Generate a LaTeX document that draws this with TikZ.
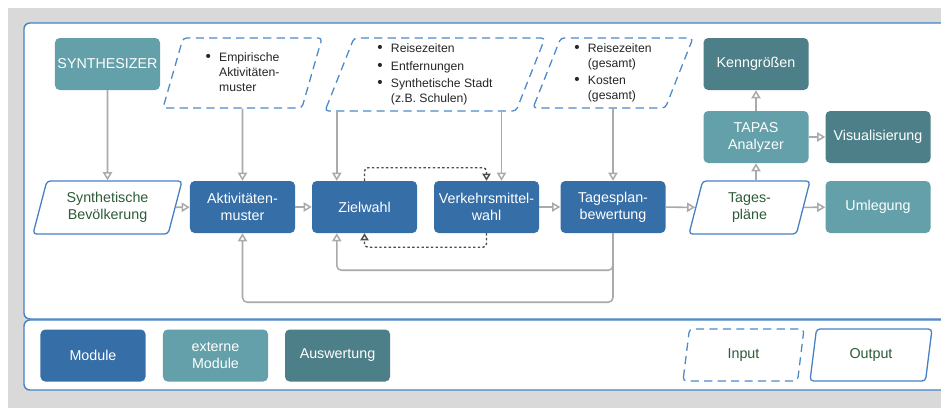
\documentclass[tikz,border=0pt]{standalone}
\usepackage{fontspec}
\setmainfont{Liberation Sans}
\usetikzlibrary{shapes.geometric,arrows.meta,calc}

\definecolor{modblue}{RGB}{54,110,168}
\definecolor{extteal}{RGB}{99,160,169}
\definecolor{evalteal}{RGB}{76,127,135}
\definecolor{frameblue}{RGB}{70,128,196}
\definecolor{dashblue}{RGB}{78,138,200}
\definecolor{textgreen}{RGB}{45,92,55}
\definecolor{linkgray}{RGB}{170,170,170}
\definecolor{bggray}{RGB}{217,217,217}

\newcommand\bul{{\fontsize{13}{12.8}\selectfont\textbullet}}

\tikzset{
  box/.style={rectangle, rounded corners=4pt, minimum width=3.15cm, minimum height=1.56cm, inner sep=2pt, align=center, text=white, font=\fontsize{12.2}{14.5}\selectfont},
  module/.style={box, fill=modblue},
  extmodule/.style={box, fill=extteal},
  evalbox/.style={box, fill=evalteal},
  para/.style={trapezium, trapezium left angle=67, trapezium right angle=113, trapezium stretches body, rounded corners=3pt, line width=1.1pt, inner sep=1pt, align=center},
  inbox/.style={para, draw=dashblue, dash pattern=on 7pt off 4.5pt, text=black!85, font=\fontsize{10.4}{12.8}\selectfont},
  outbox/.style={para, draw=frameblue, text=textgreen, font=\fontsize{12.2}{14.5}\selectfont},
  link/.style={draw=linkgray, line width=1.3pt, -{Triangle[open, length=7pt, width=8pt]}},
  iterate/.style={draw=black!70, line width=1.2pt, dash pattern=on 2pt off 2pt, rounded corners=3pt, -{Triangle[open, length=6pt, width=7pt]}},
  panel/.style={draw=frameblue, line width=1.2pt, fill=white, rounded corners=5pt}
}

\begin{document}
\begin{tikzpicture}[x=0.03cm, y=-0.03cm]
\useasboundingbox (0,0) rectangle (941,407);
\clip (0,0) rectangle (941,407);
% background and the two panels
\fill[bggray] (8,8) rectangle (960,420);
\draw[panel] (24,23) rectangle (970,319);
\draw[panel] (24,320) rectangle (970,390);

% inputs
\node[inbox, minimum width=4.77cm, minimum height=2.1cm] (inpA) at (242.5,73)
  {\begin{tabular}{@{}l@{\hspace{7pt}}l@{}}\bul & Empirische\\ & Aktivitäten-\\ & muster\end{tabular}};
\node[inbox, minimum width=6.6cm, minimum height=2.19cm] (inpB) at (435,74.5)
  {\begin{tabular}{@{}l@{\hspace{7pt}}l@{}}\bul & Reisezeiten\\[2.5pt] \bul & Entfernungen\\[2.5pt] \bul & Synthetische Stadt\\ & (z.B. Schulen)\end{tabular}};
\node[inbox, minimum width=4.8cm, minimum height=2.1cm] (inpC) at (613,73)
  {\begin{tabular}{@{}l@{\hspace{7pt}}l@{}}\bul & Reisezeiten\\ & (gesamt)\\[2.5pt] \bul & Kosten\\ & (gesamt)\end{tabular}};

% top row
\node[extmodule] (synth) at (107.5,64) {SYNTHESIZER};
\node[evalbox] (kenn) at (756,64) {Kenngrößen};
\node[extmodule] (tapas) at (756,137) {TAPAS\\Analyzer};
\node[evalbox] (vis) at (878,137) {Visualisierung};

% main chain
\node[outbox, minimum width=4.47cm, minimum height=1.59cm] (bev) at (107.5,207.5) {Synthetische\\Bevölkerung};
\node[module] (akt) at (242.5,207) {Aktivitäten-\\muster};
\node[module] (ziel) at (364.5,207) {Zielwahl};
\node[module] (vmw) at (486.5,207) {Verkehrsmittel-\\wahl};
\node[module] (tpb) at (613,207) {Tagesplan-\\bewertung};
\node[outbox, minimum width=3.63cm, minimum height=1.59cm] (plaene) at (749.5,207.5) {Tages-\\pläne};
\node[extmodule] (uml) at (878,207) {Umlegung};

% legend
\node[module] (lmod) at (93,355.5) {Module};
\node[extmodule] (lext) at (215.5,355.5) {externe\\Module};
\node[evalbox] (leval) at (337.5,355.5) {Auswertung};
\node[inbox, minimum width=3.63cm, minimum height=1.56cm, text=textgreen, font=\fontsize{12.2}{14.5}\selectfont] (linp) at (743.5,355) {Input};
\node[outbox, minimum width=3.66cm, minimum height=1.56cm] (lout) at (871,355) {Output};

% connectors
\coordinate (zin) at ($(ziel.north west)+(25,0)$);
\coordinate (zout) at ($(ziel.south west)+(25,0)$);
\coordinate (vin) at ($(vmw.north)+(15,0)$);
\draw[link] (synth) -- (bev);
\draw[link] (inpA.south) -- (akt);
\draw[link] (zin |- inpB.south) -- (zin);
\draw[link] (vin |- inpB.south) -- (vin);
\draw[link] (inpC.south) -- (tpb);
\draw[link] (bev) -- (akt);
\draw[link] (akt) -- (ziel);
\draw[link] (vmw) -- (tpb);
\draw[link] (tpb) -- (plaene);
\draw[link] (plaene) -- (uml);
\draw[link] (tapas.south |- plaene.north) -- (tapas);
\draw[link] (tapas) -- (kenn);
\draw[link] (tapas) -- (vis);
% feedback
\draw[link, rounded corners=4pt] (tpb.south) -- ++(0,37) -| (zout);
\draw[link, rounded corners=4pt] (tpb.south) -- ++(0,69) -| (akt.south);
% iteration between Zielwahl and Verkehrsmittelwahl
\draw[iterate] (ziel.north) -- ++(0,-13) -| (vmw.north);
\draw[iterate] (vmw.south) -- ++(0,14) -| (ziel.south);
\end{tikzpicture}
\end{document}
